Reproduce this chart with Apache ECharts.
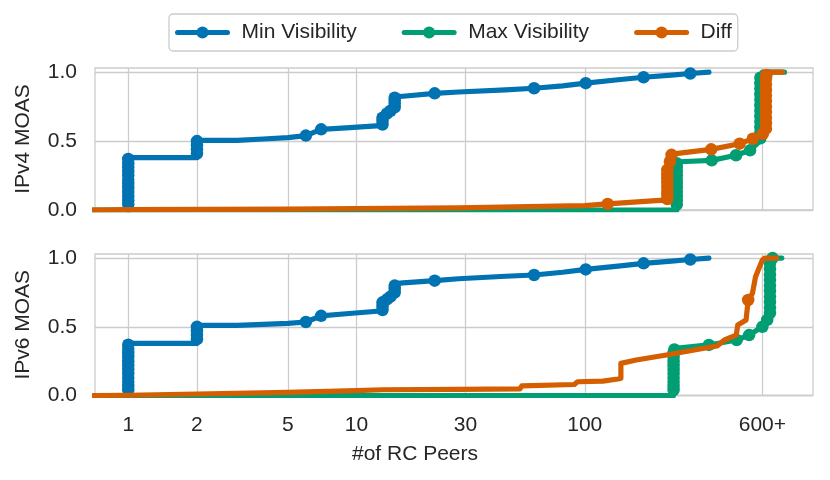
<!DOCTYPE html>
<html>
<head>
<meta charset="utf-8">
<script src="https://cdn.jsdelivr.net/npm/echarts@6/dist/echarts.min.js"></script>
<style>
  html, body { margin: 0; background: #fff; }
  #chart { width: 830px; height: 480px; }
</style>
</head>
<body>
<div id="chart"></div>
<script>
// ticks
const xTicks = [1, 2, 5, 10, 30, 100, 600]
const xTickLabels = ['1', '2', '5', '10', '30', '100', '600+']
const yTicks = [0, 0.5, 1]
const seriesNames = ['Min Visibility', 'Max Visibility', 'Diff']
const rowNames = ['IPv4 MOAS', 'IPv6 MOAS']

// IPv4 MOAS  -- line vertices [peers, share] and the marker points
const v4MinLine = [[1, 0], [1, 0.38], [2, 0.38], [2, 0.505], [3, 0.505], [3, 0.515], [3.9, 0.515], [3.9, 0.525], [5, 0.525], [5, 0.537], [6, 0.54], [7, 0.585], [9, 0.595], [12.7, 0.612], [13, 0.62], [13, 0.674], [14.1, 0.72], [14.7, 0.74], [14.7, 0.82], [16, 0.825], [22, 0.846], [28, 0.856], [45, 0.872], [60, 0.883], [80, 0.9], [101, 0.92], [140, 0.945], [181, 0.963], [240, 0.978], [290, 0.99], [350, 1.0]]
const v4MinDots = [[1, 0.04], [1, 0.07], [1, 0.1], [1, 0.13], [1, 0.16], [1, 0.19], [1, 0.22], [1, 0.25], [1, 0.28], [1, 0.31], [1, 0.34], [1, 0.37], [2, 0.41], [2, 0.44], [2, 0.47], [2, 0.5], [6, 0.54], [7, 0.585], [13, 0.62], [13, 0.645], [13, 0.67], [13.6, 0.7], [14.1, 0.72], [14.7, 0.745], [14.7, 0.77], [14.7, 0.795], [14.7, 0.815], [22, 0.846], [60, 0.883], [101, 0.92], [181, 0.963], [290, 0.99]]
const v4MaxLine = [[0.7, 0], [253, 0], [253, 0.35], [260, 0.35], [360, 0.36], [460, 0.397], [530, 0.433], [585, 0.5], [590, 0.98], [600, 1.0], [750, 1.0]]
const v4MaxDots = [[253, 0.04], [253, 0.07], [253, 0.1], [253, 0.13], [253, 0.16], [253, 0.19], [253, 0.22], [253, 0.25], [253, 0.28], [253, 0.31], [253, 0.34], [360, 0.36], [460, 0.397], [530, 0.433], [588, 0.52], [588, 0.56], [588, 0.6], [588, 0.64], [588, 0.68], [588, 0.72], [588, 0.76], [588, 0.8], [588, 0.84], [588, 0.88], [588, 0.92], [588, 0.96]]
const v4DiffLine = [[0.7, 0], [1, 0.002], [5, 0.006], [28, 0.016], [100, 0.032], [126, 0.044], [213, 0.07], [230, 0.07], [230, 0.3], [236, 0.37], [240, 0.405], [358, 0.44], [477, 0.481], [545, 0.517], [603, 0.553], [620, 0.6], [625, 0.99], [640, 1.0], [735, 1.0]]
const v4DiffDots = [[126, 0.044], [230, 0.08], [230, 0.11], [230, 0.14], [230, 0.17], [230, 0.2], [230, 0.23], [230, 0.26], [230, 0.29], [236, 0.35], [240, 0.4], [358, 0.44], [477, 0.481], [545, 0.517], [603, 0.553], [622, 0.59], [622, 0.63], [622, 0.67], [622, 0.71], [622, 0.75], [622, 0.79], [622, 0.83], [622, 0.87], [622, 0.91], [622, 0.95], [625, 0.98]]

// IPv6 MOAS
const v6MinLine = [[1, 0], [1, 0.38], [2, 0.38], [2, 0.51], [3, 0.51], [3, 0.518], [3.9, 0.518], [3.9, 0.525], [5, 0.525], [5, 0.535], [6, 0.535], [7, 0.58], [9, 0.595], [12.7, 0.615], [13, 0.622], [13, 0.68], [14.1, 0.72], [14.7, 0.746], [14.7, 0.815], [16, 0.82], [22, 0.836], [28, 0.85], [45, 0.868], [60, 0.877], [80, 0.897], [101, 0.918], [140, 0.942], [181, 0.962], [240, 0.978], [290, 0.99], [350, 1.0]]
const v6MinDots = [[1, 0.04], [1, 0.07], [1, 0.1], [1, 0.13], [1, 0.16], [1, 0.19], [1, 0.22], [1, 0.25], [1, 0.28], [1, 0.31], [1, 0.34], [1, 0.37], [2, 0.41], [2, 0.44], [2, 0.47], [2, 0.5], [6, 0.535], [7, 0.58], [13, 0.622], [13, 0.65], [13, 0.678], [13.6, 0.7], [14.1, 0.72], [14.7, 0.75], [14.7, 0.775], [14.7, 0.8], [22, 0.836], [60, 0.877], [101, 0.918], [181, 0.962], [290, 0.99]]
const v6MaxLine = [[0.7, 0], [245, 0], [245, 0.3], [250, 0.343], [350, 0.368], [463, 0.404], [525, 0.44], [600, 0.5], [644, 0.574], [650, 0.98], [665, 1.0], [730, 1.0]]
const v6MaxDots = [[245, 0.04], [245, 0.07], [245, 0.1], [245, 0.13], [245, 0.16], [245, 0.19], [245, 0.22], [245, 0.25], [245, 0.28], [245, 0.31], [247, 0.335], [350, 0.368], [463, 0.404], [525, 0.44], [600, 0.5], [630, 0.55], [648, 0.6], [648, 0.64], [648, 0.68], [648, 0.72], [648, 0.76], [648, 0.8], [648, 0.84], [648, 0.88], [648, 0.92], [648, 0.96], [665, 1.0]]
const v6DiffLine = [[0.7, 0], [1, 0.002], [2, 0.011], [5, 0.023], [10, 0.035], [13, 0.042], [28, 0.045], [52, 0.048], [53, 0.07], [90, 0.08], [93, 0.1], [120, 0.105], [140, 0.12], [144, 0.125], [144, 0.234], [168, 0.258], [228, 0.295], [363, 0.355], [380, 0.36], [409, 0.404], [461, 0.44], [468, 0.513], [509, 0.55], [520, 0.695], [543, 0.744], [560, 0.865], [600, 0.986], [615, 1.0], [692, 1.0]]
const v6DiffDots = [[520, 0.695]]

const colors = ['#0173b2', '#029e73', '#d55e00']
const font = 'Liberation Sans'
const textColor = '#262626'
const gridColor = '#cccccc'

const rows = [
  [[v4MinLine, v4MinDots], [v4MaxLine, v4MaxDots], [v4DiffLine, v4DiffDots]],
  [[v6MinLine, v6MinDots], [v6MaxLine, v6MaxDots], [v6DiffLine, v6DiffDots]],
]

function tickLabel (v) {
  const i = xTicks.findIndex(t => Math.abs(Math.log10(t) - Math.log10(v)) < 1e-6)
  return i >= 0 ? xTickLabels[i] : ''
}

const series = []
rows.forEach((row, g) => {
  row.forEach(([line, dots], k) => {
    series.push({
      name: seriesNames[k],
      type: 'line',
      xAxisIndex: g,
      yAxisIndex: g,
      data: line,
      symbol: 'circle',
      showSymbol: false,
      z: 2 + k * 2,
      lineStyle: { color: colors[k], width: 5.2, cap: 'round', join: 'round' },
      itemStyle: { color: colors[k] },
    })
    series.push({
      name: seriesNames[k],
      type: 'scatter',
      xAxisIndex: g,
      yAxisIndex: g,
      data: dots,
      symbolSize: 12.5,
      z: 3 + k * 2,
      itemStyle: { color: colors[k], opacity: 1 },
    })
  })
})

const grids = [
  { left: 95, right: 17, top: 68, height: 142 },
  { left: 95, right: 17, top: 254, height: 141.5 },
].map(g => ({ ...g, show: true, borderColor: gridColor, borderWidth: 1.3, backgroundColor: 'transparent' }))

const chart = echarts.init(document.getElementById('chart'))
chart.setOption({
  animation: false,
  textStyle: { fontFamily: font, color: textColor },
  legend: {
    data: seriesNames,
    left: 169,
    top: 14,
    padding: [8, 6, 8, 6],
    itemWidth: 50,
    itemHeight: 15,
    itemGap: 45,
    borderColor: gridColor,
    borderWidth: 1.3,
    borderRadius: 4,
    lineStyle: { width: 5 },
    textStyle: { fontSize: 21, color: textColor, fontFamily: font, padding: [0, 0, 0, 9] },
  },
  grid: grids,
  xAxis: [0, 1].map(g => ({
    type: 'log',
    logBase: 10,
    gridIndex: g,
    min: 0.715,
    max: 1000,
    axisLine: { show: false },
    axisTick: { show: false, customValues: xTicks },
    axisLabel: {
      show: g === 1,
      customValues: xTicks,
      formatter: tickLabel,
      fontSize: 21,
      color: textColor,
      fontFamily: font,
      margin: 19,
    },
    splitLine: { show: true, lineStyle: { color: gridColor, width: 1.3 } },
    minorSplitLine: { show: false },
  })),
  yAxis: [0, 1].map(g => ({
    type: 'value',
    gridIndex: g,
    min: 0,
    max: 1.03,
    name: rowNames[g],
    nameLocation: 'middle',
    nameGap: 61,
    nameTextStyle: { fontSize: 21, color: textColor, fontFamily: font },
    axisLine: { show: false },
    axisTick: { show: false, customValues: yTicks },
    axisLabel: {
      customValues: yTicks,
      formatter: v => v.toFixed(1),
      fontSize: 21,
      color: textColor,
      fontFamily: font,
      margin: 18,
      padding: [4, 0, 0, 0],
    },
    splitLine: { show: true, lineStyle: { color: gridColor, width: 1.3 } },
  })),
  graphic: [{
    type: 'text',
    left: 'center',
    top: 444,
    style: { text: '#of RC Peers', fontSize: 21, fill: textColor, fontFamily: font },
  }],
  series: series,
})
</script>
</body>
</html>
